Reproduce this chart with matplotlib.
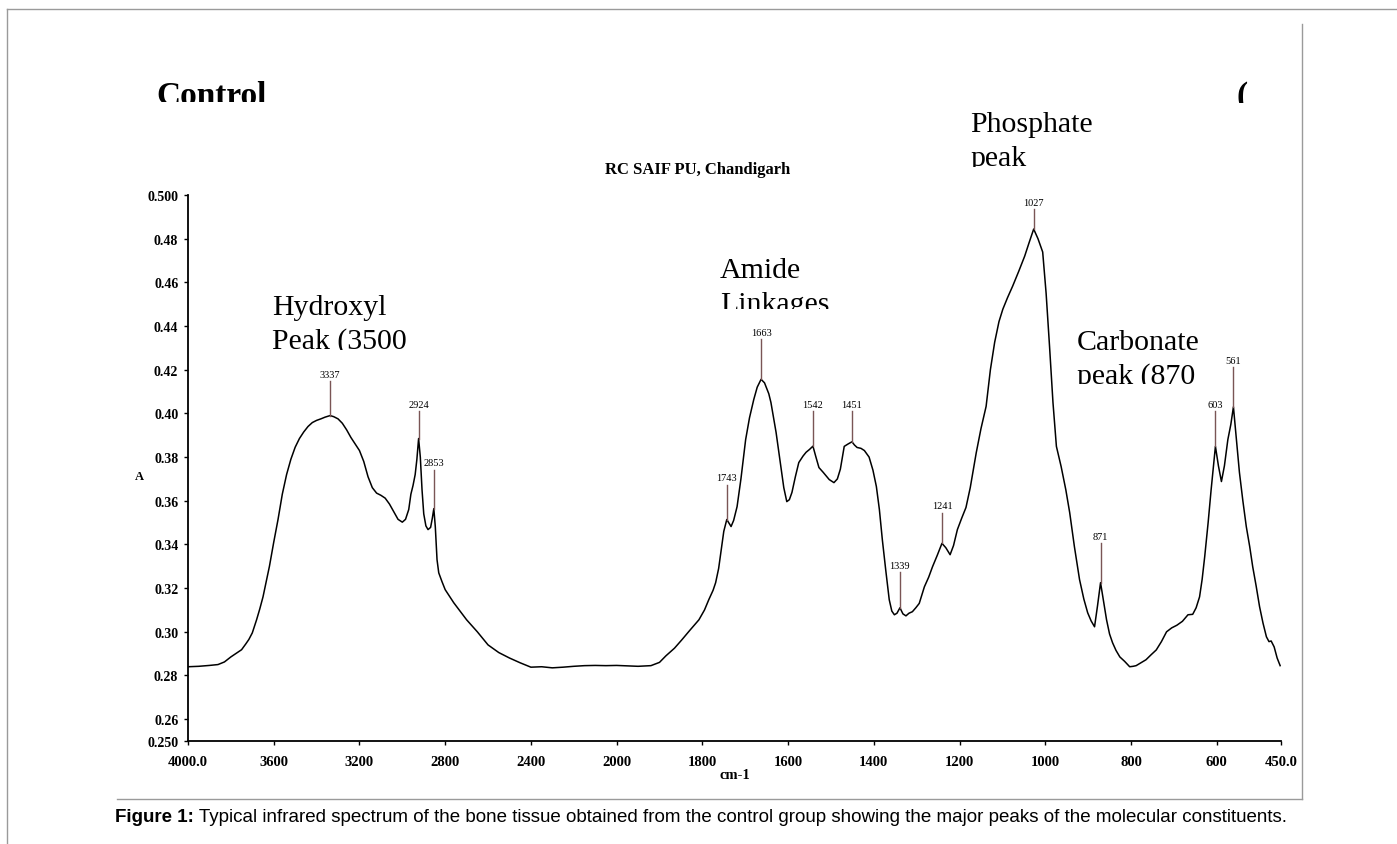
import numpy as np
import matplotlib
matplotlib.use("Agg")
import matplotlib.pyplot as plt
from matplotlib.lines import Line2D
from matplotlib.transforms import Bbox, TransformedBbox

# FTIR spectrum of control bone tissue (wavenumber in cm-1, absorbance A)
wavenumber = [
    4000, 3950, 3900, 3860, 3830, 3800, 3770, 3750, 3730, 3716, 3700, 3680,
    3665, 3650, 3635, 3620, 3600, 3580, 3560, 3540, 3520, 3500, 3480, 3460,
    3440, 3420, 3400, 3380, 3360, 3337, 3320, 3300, 3280, 3260, 3240, 3220,
    3200, 3180, 3160, 3140, 3120, 3100, 3080, 3060, 3040, 3020, 3000, 2985,
    2970, 2960, 2950, 2940, 2932, 2924, 2916, 2908, 2900, 2890, 2880, 2868,
    2860, 2853, 2846, 2838, 2830, 2815, 2800, 2760, 2700, 2650, 2600, 2550,
    2500, 2450, 2400, 2350, 2300, 2250, 2200, 2150, 2100, 2050, 2000, 1950,
    1920, 1900, 1885, 1865, 1848, 1830, 1808, 1795, 1785, 1775, 1769, 1762,
    1757, 1750, 1743, 1737, 1733, 1727, 1719, 1710, 1699, 1690, 1680, 1672,
    1663, 1655, 1645, 1640, 1628, 1617, 1610, 1603, 1597, 1591, 1583, 1575,
    1565, 1558, 1550, 1542, 1535, 1528, 1518, 1504, 1493, 1485, 1478, 1469,
    1460, 1451, 1445, 1439, 1430, 1422, 1411, 1402, 1394, 1387, 1380, 1372,
    1364, 1358, 1352, 1346, 1339, 1332, 1325, 1318, 1310, 1302, 1294, 1282,
    1272, 1263, 1252, 1241, 1232, 1222, 1214, 1205, 1195, 1185, 1175, 1161,
    1150, 1138, 1128, 1118, 1108, 1099, 1088, 1076, 1062, 1048, 1038, 1027,
    1017, 1006, 998, 990, 982, 974, 963, 952, 943, 932, 920, 910,
    901, 893, 885, 878, 871, 864, 857, 850, 843, 835, 826, 815,
    803, 795, 788, 777, 765, 753, 741, 729, 717, 705, 693, 680,
    667, 656, 648, 640, 634, 628, 620, 613, 603, 596, 589, 582,
    574, 567, 561, 554, 547, 539, 531, 523, 516, 508, 500, 492,
    484, 478, 473, 466, 459, 452,
]
absorbance = [
    0.2840, 0.2842, 0.2846, 0.2850, 0.2862, 0.2885, 0.2905, 0.2918, 0.2945, 0.2965, 0.2995, 0.3055,
    0.3105, 0.3160, 0.3230, 0.3300, 0.3410, 0.3514, 0.3630, 0.3720, 0.3790, 0.3845, 0.3885, 0.3915,
    0.3940, 0.3958, 0.3968, 0.3975, 0.3983, 0.3990, 0.3985, 0.3975, 0.3955, 0.3925, 0.3890, 0.3860,
    0.3830, 0.3780, 0.3710, 0.3660, 0.3635, 0.3625, 0.3612, 0.3585, 0.3550, 0.3515, 0.3502, 0.3515,
    0.3560, 0.3630, 0.3670, 0.3720, 0.3790, 0.3885, 0.3800, 0.3650, 0.3540, 0.3485, 0.3468, 0.3478,
    0.3520, 0.3564, 0.3480, 0.3330, 0.3270, 0.3230, 0.3193, 0.3133, 0.3055, 0.3000, 0.2940, 0.2905,
    0.2880, 0.2858, 0.2838, 0.2840, 0.2835, 0.2838, 0.2842, 0.2845, 0.2846, 0.2845, 0.2846, 0.2842,
    0.2845, 0.2860, 0.2890, 0.2925, 0.2963, 0.3005, 0.3055, 0.3100, 0.3147, 0.3190, 0.3225, 0.3290,
    0.3362, 0.3460, 0.3514, 0.3495, 0.3482, 0.3510, 0.3573, 0.3700, 0.3880, 0.3980, 0.4064, 0.4120,
    0.4156, 0.4140, 0.4090, 0.4050, 0.3913, 0.3757, 0.3660, 0.3596, 0.3605, 0.3638, 0.3710, 0.3775,
    0.3805, 0.3822, 0.3835, 0.3850, 0.3800, 0.3752, 0.3730, 0.3697, 0.3683, 0.3700, 0.3745, 0.3849,
    0.3860, 0.3870, 0.3855, 0.3844, 0.3840, 0.3830, 0.3800, 0.3740, 0.3665, 0.3560, 0.3420, 0.3280,
    0.3147, 0.3095, 0.3078, 0.3085, 0.3110, 0.3082, 0.3073, 0.3085, 0.3092, 0.3110, 0.3130, 0.3206,
    0.3250, 0.3298, 0.3350, 0.3405, 0.3385, 0.3353, 0.3395, 0.3468, 0.3520, 0.3569, 0.3660, 0.3820,
    0.3930, 0.4032, 0.4200, 0.4326, 0.4420, 0.4477, 0.4530, 0.4583, 0.4650, 0.4720, 0.4780, 0.4844,
    0.4800, 0.4739, 0.4550, 0.4307, 0.4050, 0.3849, 0.3757, 0.3650, 0.3546, 0.3390, 0.3239, 0.3150,
    0.3087, 0.3050, 0.3023, 0.3120, 0.3225, 0.3140, 0.3055, 0.2990, 0.2950, 0.2915, 0.2885, 0.2865,
    0.2840, 0.2842, 0.2845, 0.2858, 0.2872, 0.2895, 0.2917, 0.2955, 0.3000, 0.3018, 0.3030, 0.3048,
    0.3078, 0.3080, 0.3110, 0.3160, 0.3240, 0.3344, 0.3500, 0.3651, 0.3849, 0.3760, 0.3688, 0.3760,
    0.3880, 0.3950, 0.4030, 0.3880, 0.3730, 0.3600, 0.3482, 0.3390, 0.3298, 0.3210, 0.3115, 0.3040,
    0.2977, 0.2955, 0.2958, 0.2931, 0.2880, 0.2845,
]

# labelled peaks and the height where each label sits
peaks = [3337, 2924, 2853, 1743, 1663, 1542, 1451, 1339, 1241, 1027, 871, 603, 561]
label_tops = [0.4147, 0.4009, 0.3743, 0.3674, 0.4339, 0.4009, 0.4009,
              0.3275, 0.3546, 0.4936, 0.3408, 0.4009, 0.4211]

xticks = [4000, 3600, 3200, 2800, 2400, 2000, 1800, 1600, 1400, 1200, 1000, 800, 600, 450]
xtick_labels = ["4000.0", "3600", "3200", "2800", "2400", "2000", "1800", "1600",
                "1400", "1200", "1000", "800", "600", "450.0"]
yticks = [0.25, 0.26, 0.28, 0.30, 0.32, 0.34, 0.36, 0.38, 0.40, 0.42, 0.44, 0.46, 0.48, 0.50]
ytick_labels = ["0.250", "0.26", "0.28", "0.30", "0.32", "0.34", "0.36", "0.38",
                "0.40", "0.42", "0.44", "0.46", "0.48", "0.500"]

SERIF = "Liberation Serif"
SANS = "Liberation Sans"
W, H = 1397, 845

fig = plt.figure(figsize=(W / 100, H / 100), dpi=100)

def fx(px):
    return px / W

def fy(py):
    return 1 - py / H

# gray frame lines around the figure
frame = [((7, 1397), (10, 10)), ((7, 7), (10, 845)),
         ((1302, 1302), (25, 800)), ((117, 1302), (800, 800))]
for xs, ys in frame:
    fig.add_artist(Line2D([fx(v) for v in xs], [fy(v) for v in ys],
                          color="#9a9a9a", lw=1.0))

# text boxes cut off at the bottom edge
def boxed_text(x, lines, baselines, clip_y, **kw):
    box = TransformedBbox(Bbox.from_extents(0, fy(clip_y), 1, 1), fig.transFigure)
    for s, b in zip(lines, baselines):
        t = fig.text(fx(x), fy(b), s, va="baseline", ha="left", **kw)
        t.set_clip_box(box)
        t.set_clip_on(True)

big = dict(family=SERIF, fontsize=21.5, color="black")
boxed_text(156, ["Control"], [105], 103, family=SERIF, fontsize=24, fontweight="bold")
boxed_text(1237, ["("], [105], 104, family=SERIF, fontsize=24, fontweight="bold")
boxed_text(970, ["Phosphate", "peak"], [132, 166], 168, **big)
boxed_text(720, ["Amide", "Linkages"], [278, 312], 310, **big)
boxed_text(272, ["Hydroxyl", "Peak (3500"], [315, 349], 351, **big)
boxed_text(1077, ["Carbonate", "peak (870"], [350, 384], 385, **big)

fig.text(fx(698), fy(170), "RC SAIF PU, Chandigarh", ha="center", va="center",
         family=SERIF, fontweight="bold", fontsize=12)

# axis break: 4000-2000 is drawn at half the scale of 2000-450
def fwd(x):
    x = np.asarray(x, dtype=float)
    return np.where(x > 2000, 2000 + (x - 2000) / 2, x)

def inv(u):
    u = np.asarray(u, dtype=float)
    return np.where(u > 2000, 2000 + (u - 2000) * 2, u)

ax = fig.add_axes([fx(188), fy(742), fx(1281) - fx(188), fy(196) - fy(742)])
ax.set_xscale("function", functions=(fwd, inv))
ax.plot(wavenumber, absorbance, color="black", lw=1.1)
ax.set_xlim(4000, 450)
ax.set_ylim(0.25, 0.5)

for side in ["top", "right"]:
    ax.spines[side].set_visible(False)
for side in ["left", "bottom"]:
    ax.spines[side].set_linewidth(1.3)

ax.set_xticks(xticks)
ax.set_xticklabels(xtick_labels, family=SERIF, fontweight="bold", fontsize=10.5)
ax.set_yticks(yticks)
ax.set_yticklabels(ytick_labels, family=SERIF, fontweight="bold", fontsize=10)
ax.xaxis.set_minor_locator(matplotlib.ticker.NullLocator())
ax.tick_params(axis="x", direction="out", length=3, width=1, pad=7)
ax.tick_params(axis="y", direction="out", length=3, width=1, pad=4)

# peak markers with wavenumber labels
for wn, top in zip(peaks, label_tops):
    val = absorbance[wavenumber.index(wn)]
    ax.plot([wn, wn], [val, top], color="#7a5555", lw=1.0)
    ax.text(wn, top + 0.001, str(wn), ha="center", va="bottom",
            family=SERIF, fontsize=7.5)

fig.text(fx(139), fy(477), "A", ha="center", va="center",
         family=SERIF, fontweight="bold", fontsize=9)
fig.text(fx(735), fy(776), "cm-1", ha="center", va="center",
         family=SERIF, fontweight="bold", fontsize=10.5)

# caption
cap = fig.text(fx(115), fy(818), "Figure 1:", ha="left", va="center",
               family=SANS, fontweight="bold", fontsize=13.5)
r = fig.canvas.get_renderer()
bb = cap.get_window_extent(r)
fig.text(bb.x1 / fig.bbox.width, fy(818),
         " Typical infrared spectrum of the bone tissue obtained from the control group"
         " showing the major peaks of the molecular constituents.",
         ha="left", va="center", family=SANS, fontsize=13.5)

fig.savefig("out.png", dpi=100)
